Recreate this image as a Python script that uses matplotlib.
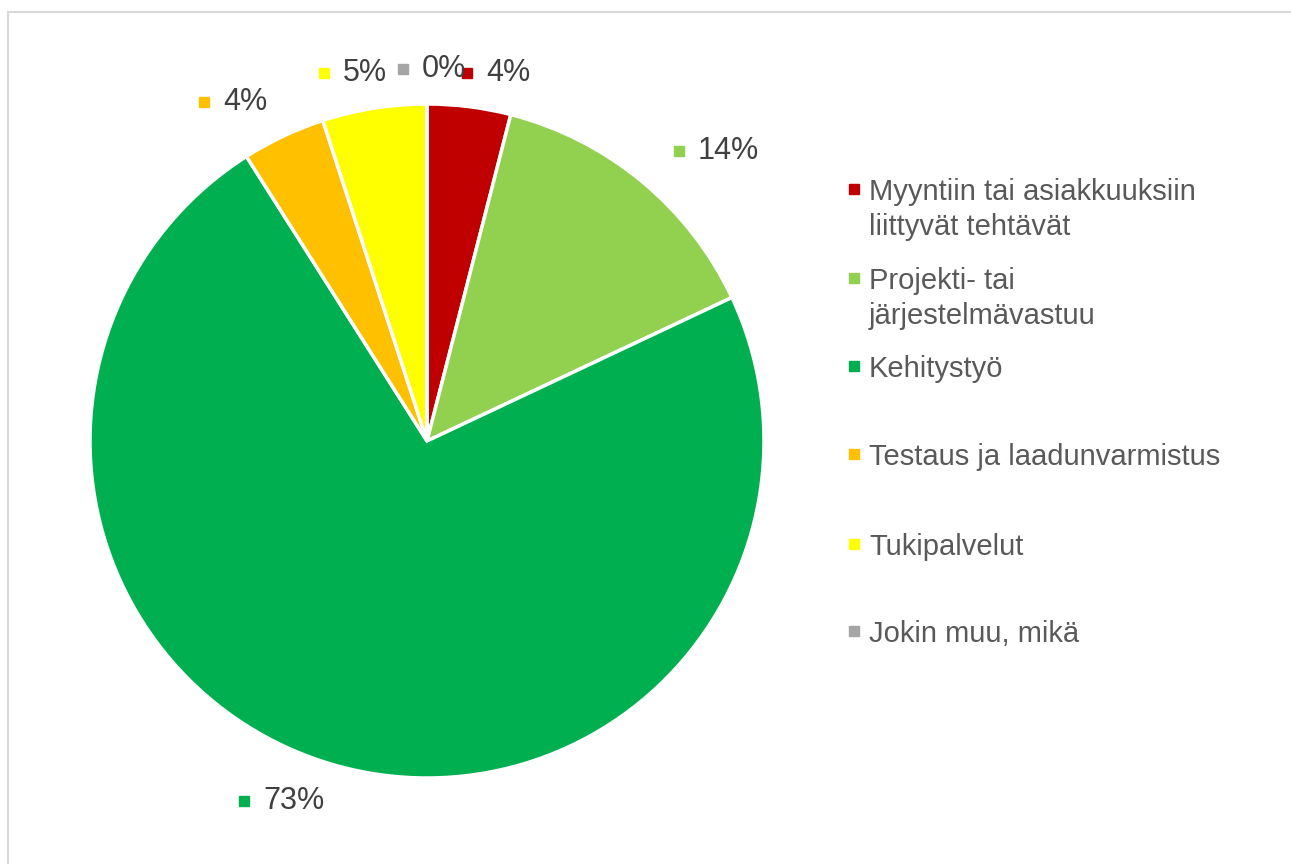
import matplotlib.pyplot as plt
from matplotlib.patches import Rectangle

plt.rcParams['font.family'] = ['Liberation Sans', 'DejaVu Sans']

categories = ['Myyntiin tai asiakkuuksiin\nliittyvät tehtävät',
              'Projekti- tai\njärjestelmävastuu',
              'Kehitystyö',
              'Testaus ja laadunvarmistus',
              'Tukipalvelut',
              'Jokin muu, mikä']
shares = [4, 14, 73, 4, 5, 0]
colors = ['#C00000', '#92D050', '#00B050', '#FFC000', '#FFFF00', '#A5A5A5']

# label anchor (square marker) positions in pie-radius units
label_pos = [(0.119, 1.092), (0.748, 0.861), (-0.543, -1.068),
             (-0.662, 1.006), (-0.306, 1.092), (-0.071, 1.104)]

W, H = 1291, 864
fig = plt.figure(figsize=(W / 100, H / 100), dpi=100)

# chart border
fig.patches.append(Rectangle((7.5 / W, -0.1), 1.2, (H - 11.5) / H + 0.1,
                             transform=fig.transFigure, fill=False,
                             edgecolor='#D9D9D9', linewidth=1.5))

cx, cy, r = 427, 441, 337
lim = 1.2
half = r * lim
ax = fig.add_axes([(cx - half) / W, (H - cy - half) / H, 2 * half / W, 2 * half / H])
ax.pie(shares, colors=colors, startangle=90, counterclock=False,
       wedgeprops=dict(edgecolor='white', linewidth=2.5))
ax.set_xlim(-lim, lim)
ax.set_ylim(-lim, lim)
ax.axis('off')

for (x, y), v, c in zip(label_pos, shares, colors):
    ax.plot(x, y, marker='s', markersize=7, color=c, linestyle='none', clip_on=False)
    ax.text(x + 19 / r, y, f'{v}%', fontsize=22, color='#404040', ha='left', va='center')

# legend
leg_x = 854
leg_y = [189, 278, 366, 454, 544, 631]
for yy, name, c in zip(leg_y, categories, colors):
    fig.add_artist(plt.Line2D([leg_x / W], [1 - yy / H], marker='s', markersize=7,
                              color=c, linestyle='none'))
    for k, line in enumerate(name.split('\n')):
        fig.text((leg_x + 15) / W, 1 - (yy + 11 + 35 * k) / H, line,
                 fontsize=21, color='#595959', ha='left', va='baseline')

fig.savefig('out.png', dpi=100)
